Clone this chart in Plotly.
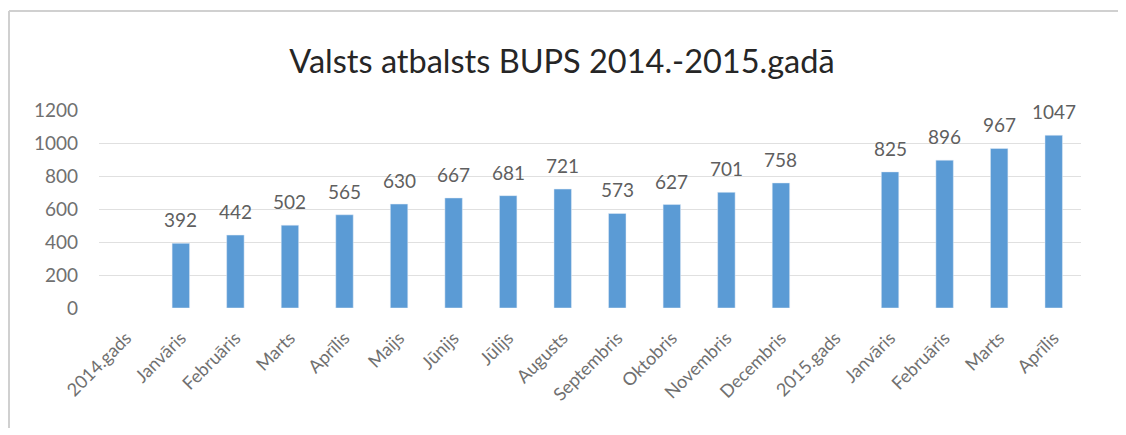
import plotly.graph_objects as go

categories = ["2014.gads", "Janvāris", "Februāris", "Marts", "Aprīlis", "Maijs",
              "Jūnijs", "Jūlijs", "Augusts", "Septembris", "Oktobris", "Novembris",
              "Decembris", "2015.gads", "Janvāris", "Februāris", "Marts", "Aprīlis"]
values = [None, 392, 442, 502, 565, 630, 667, 681, 721, 573, 627, 701, 758,
          None, 825, 896, 967, 1047]
y_ticks = [0, 200, 400, 600, 800, 1000, 1200]
title_text = "Valsts atbalsts BUPS 2014.-2015.gadā"

positions = list(range(len(categories)))

FONT = "Lato, 'Open Sans', sans-serif"
TICK_GREY = "#707070"
LABEL_GREY = "#5f5f5f"

W, H = 1110, 420
L, R, T, B = 91, 37, 102, 120
PW = W - L - R
PH = H - T - B

fig = go.Figure(go.Bar(
    x=positions,
    y=values,
    marker=dict(color="#5B9BD5"),
    width=0.32,
    hoverinfo="y",
))

for p, v in zip(positions, values):
    if v is None:
        continue
    fig.add_annotation(x=p, y=v, text=str(v), showarrow=False,
                       xanchor="center", yanchor="bottom", yshift=10,
                       font=dict(family=FONT, size=19, color=LABEL_GREY))

fig.update_layout(
    width=W, height=H,
    margin=dict(l=L, r=R, t=T, b=B),
    paper_bgcolor="white", plot_bgcolor="white",
    title=dict(text=title_text, x=554 / W, xanchor="center", y=1 - 54 / H, yanchor="middle",
               font=dict(family=FONT, size=32.5, color="#262626")),
    showlegend=False,
    xaxis=dict(
        tickmode="array", tickvals=positions, ticktext=categories,
        tickangle=-45, range=[-0.5, len(categories) - 0.5],
        tickfont=dict(family=FONT, size=18, color=TICK_GREY),
        showgrid=False, zeroline=False, showline=False, ticks="",
        ticklabelstandoff=15,
    ),
    yaxis=dict(
        tickmode="array", tickvals=y_ticks, range=[0, 1200],
        tickfont=dict(family=FONT, size=19, color=TICK_GREY),
        gridcolor="#E0E0E0", gridwidth=1, zeroline=False, showline=False,
        ticks="", ticklabelstandoff=20,
    ),
    shapes=[
        dict(type="line", xref="paper", yref="paper",
             x0=-90 / PW, x1=1.2, y0=1 + 99 / PH, y1=1 + 99 / PH,
             line=dict(color="#D0D0D0", width=2)),
        dict(type="line", xref="paper", yref="paper",
             x0=-90 / PW, x1=-90 / PW, y0=1 + 99 / PH, y1=-1,
             line=dict(color="#D0D0D0", width=2)),
    ],
)

fig.write_html("out.html")
